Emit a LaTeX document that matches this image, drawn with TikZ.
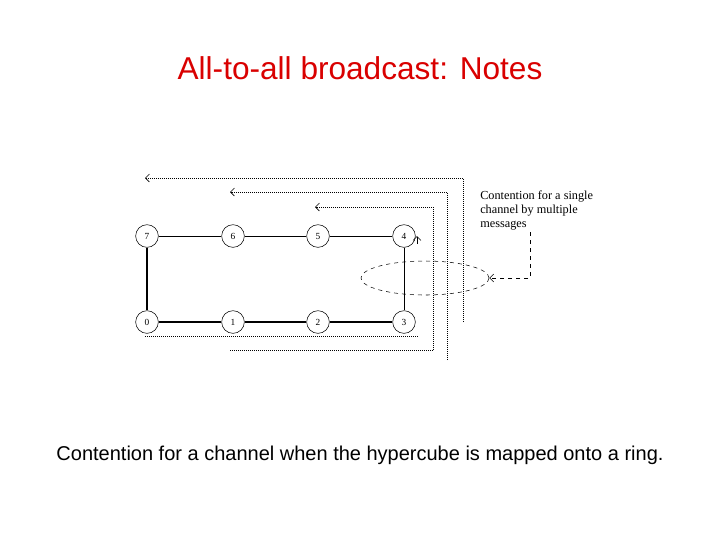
\documentclass[tikz,border=0pt]{standalone}
\usepackage{fontspec}
\setmainfont{Liberation Serif}
\newfontfamily\arial{Liberation Sans}
\usetikzlibrary{arrows.meta,shapes.geometric}
\begin{document}
\begin{tikzpicture}[x=0.75pt,y=-0.75pt,
  pe/.style={circle,draw,minimum size=17pt,inner sep=0pt,font=\fontsize{7}{8}\selectfont},
  dots/.style={densely dotted,line width=0.5pt},
  arr/.style={-{Straight Barb[length=3pt]}}]
\useasboundingbox (0,0) rectangle (720,540);
\node[font=\arial\fontsize{23.7}{28}\selectfont,text=red!85!black] (title) at (360,68) {All-to-all broadcast: Notes};
\node[font=\arial\fontsize{15}{18}\selectfont] (cap) at (360,455) {Contention for a channel when the hypercube is mapped onto a ring.};
\foreach \n/\x/\y in {7/147/236,6/233/236,5/318/236,4/404/236,0/147/322,1/233/322,2/318/322,3/404/322}
  \node[pe] (n\n) at (\x,\y) {\n};
\draw[line width=0.5pt] (n7)--(n6) (n6)--(n5) (n5)--(n4) (n4)--(n3);
\draw[line width=1.3pt] (n7)--(n0) (n0)--(n1) (n1)--(n2) (n2)--(n3);
% dotted message paths
\coordinate (a1) at (145,336); \coordinate (a3) at (463,178); \coordinate (a4) at (145,178);
\draw[dots] (a1)--(418,336);
\draw[dots,arr] (463,322)--(a3)--(a4);
\coordinate (b1) at (230,350); \coordinate (b2) at (447,360); \coordinate (b3) at (447,192); \coordinate (b4) at (230,192);
\draw[dots] (b1)--(433,350);
\draw[dots,arr] (b2)--(b3)--(b4);
\coordinate (c2) at (433,350); \coordinate (c3) at (433,207); \coordinate (c4) at (315,207);
\draw[dots,arr] (c2)--(c3)--(c4);
\draw[arr,line width=0.4pt] (417,244)--(417,236);
\node[draw,dashed,ellipse,minimum width=96pt,minimum height=25.5pt,inner sep=0pt] (ell) at (425,278) {};
\node[align=left,anchor=north west,font=\fontsize{9.2}{10.5}\selectfont,inner sep=0pt] (txt) at (480,191) {Contention for a single\\channel by multiple\\messages};
\coordinate (d1) at (530,232);\coordinate (d2) at (530,278);
\draw[dashed,arr] (d1)--(d2)--(ell.east);
\end{tikzpicture}
\end{document}
